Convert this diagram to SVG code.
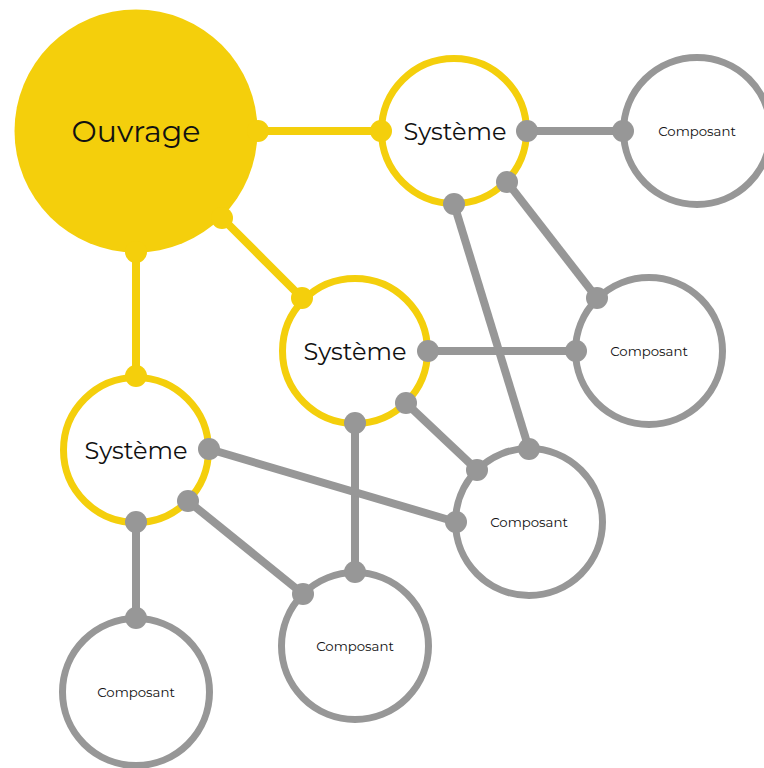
<svg xmlns="http://www.w3.org/2000/svg" width="764" height="768" viewBox="0 0 764 768">
<style>
.y{stroke:#F4CF0C;stroke-width:8;fill:none}
.g{stroke:#979797;stroke-width:8;fill:none}
.yd{fill:#F4CF0C}
.gd{fill:#979797}
.sys{fill:#fff;stroke:#F4CF0C;stroke-width:7}
.comp{fill:#fff;stroke:#979797;stroke-width:7}
text{font-family:Montserrat,"Open Sans","Liberation Sans",sans-serif;fill:#111;text-anchor:middle;dominant-baseline:central}
.t1{font-size:30px}
.t2{font-size:24px}
.t3{font-size:13.3px}
</style>
<rect width="764" height="768" fill="#fff"/>
<g id="connectors">
<line class="y" x1="258" y1="131" x2="381" y2="131"/>
<line class="y" x1="222" y1="218" x2="302" y2="298"/>
<line class="y" x1="136" y1="252" x2="136" y2="376"/>
<line class="g" x1="527" y1="131" x2="623" y2="131"/>
<line class="g" x1="507" y1="182" x2="597" y2="298"/>
<line class="g" x1="454" y1="204" x2="529" y2="449"/>
<line class="g" x1="428" y1="351" x2="576" y2="351"/>
<line class="g" x1="406" y1="403" x2="477" y2="470"/>
<line class="g" x1="355" y1="423" x2="355" y2="572"/>
<line class="g" x1="209" y1="449" x2="456" y2="522"/>
<line class="g" x1="188" y1="501" x2="303" y2="594"/>
<line class="g" x1="136" y1="522" x2="136" y2="618"/>
</g>
<g id="ouvrage">
<circle cx="136" cy="131" r="121.5" fill="#F4CF0C"/>
<text class="t1" x="136" y="131">Ouvrage</text>
</g>
<g id="systeme1">
<circle class="sys" cx="454" cy="131" r="72.5"/>
<text class="t2" x="455" y="131">Système</text>
</g>
<g id="systeme2">
<circle class="sys" cx="355" cy="351" r="72.5"/>
<text class="t2" x="355" y="351">Système</text>
</g>
<g id="systeme3">
<circle class="sys" cx="136" cy="450" r="72.5"/>
<text class="t2" x="136" y="450">Système</text>
</g>
<g id="composant1">
<circle class="comp" cx="697" cy="131" r="73.5"/>
<text class="t3" x="697" y="131">Composant</text>
</g>
<g id="composant2">
<circle class="comp" cx="649" cy="351" r="73.5"/>
<text class="t3" x="649" y="351">Composant</text>
</g>
<g id="composant3">
<circle class="comp" cx="529" cy="522" r="73.5"/>
<text class="t3" x="529" y="522">Composant</text>
</g>
<g id="composant4">
<circle class="comp" cx="355" cy="646" r="73.5"/>
<text class="t3" x="355" y="646">Composant</text>
</g>
<g id="composant5">
<circle class="comp" cx="136" cy="692" r="73.5"/>
<text class="t3" x="136" y="692">Composant</text>
</g>
<g id="dots">
<circle class="yd" cx="258" cy="131" r="11"/>
<circle class="yd" cx="381" cy="131" r="11"/>
<circle class="yd" cx="222" cy="218" r="11"/>
<circle class="yd" cx="302" cy="298" r="11"/>
<circle class="yd" cx="136" cy="252" r="11"/>
<circle class="yd" cx="136" cy="376" r="11"/>
<circle class="gd" cx="527" cy="131" r="11"/>
<circle class="gd" cx="623" cy="131" r="11"/>
<circle class="gd" cx="507" cy="182" r="11"/>
<circle class="gd" cx="597" cy="298" r="11"/>
<circle class="gd" cx="454" cy="204" r="11"/>
<circle class="gd" cx="529" cy="449" r="11"/>
<circle class="gd" cx="428" cy="351" r="11"/>
<circle class="gd" cx="576" cy="351" r="11"/>
<circle class="gd" cx="406" cy="403" r="11"/>
<circle class="gd" cx="477" cy="470" r="11"/>
<circle class="gd" cx="355" cy="423" r="11"/>
<circle class="gd" cx="355" cy="572" r="11"/>
<circle class="gd" cx="209" cy="449" r="11"/>
<circle class="gd" cx="456" cy="522" r="11"/>
<circle class="gd" cx="188" cy="501" r="11"/>
<circle class="gd" cx="303" cy="594" r="11"/>
<circle class="gd" cx="136" cy="522" r="11"/>
<circle class="gd" cx="136" cy="618" r="11"/>
</g>
</svg>
